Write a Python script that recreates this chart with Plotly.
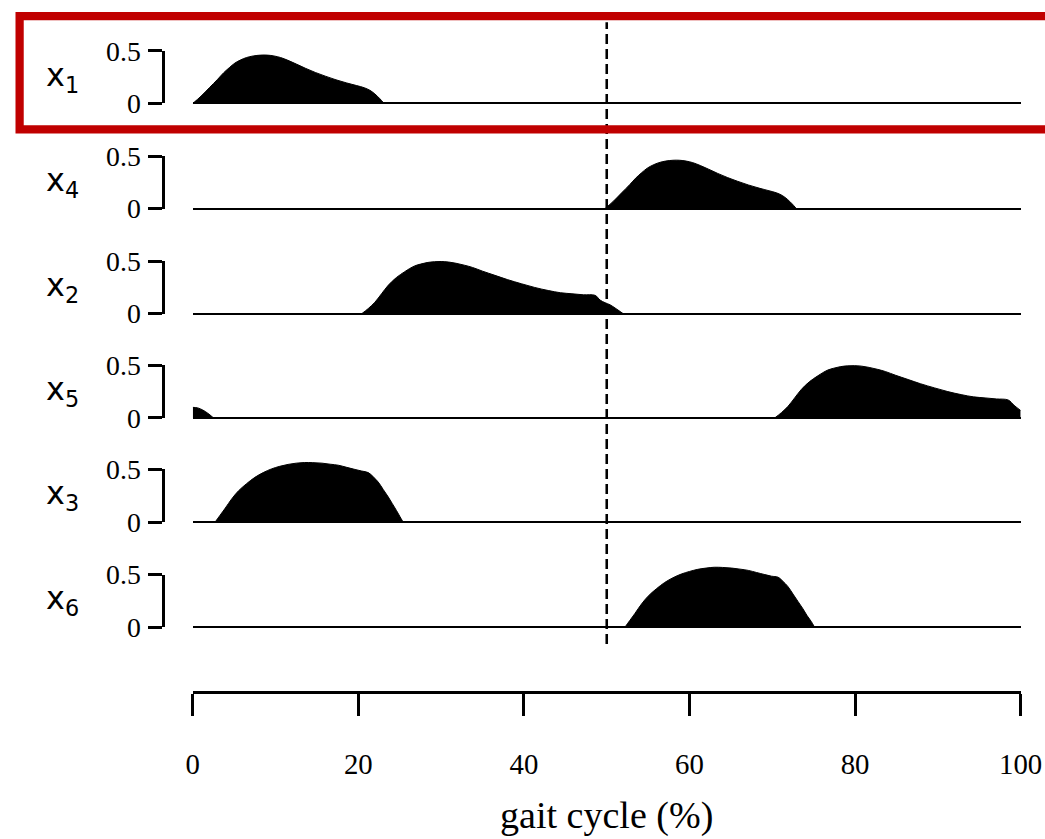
import plotly.graph_objects as go

# ---------------- data ----------------
tick_x = [0, 20, 40, 60, 80, 100]
tick_y = [0, 0.5]
tick_y_text = ["0", "0.5"]
x_title = "gait cycle (%)"

panel_names = ["x<sub>1</sub>", "x<sub>4</sub>", "x<sub>2</sub>", "x<sub>5</sub>", "x<sub>3</sub>", "x<sub>6</sub>"]

x1_pct = [0, 1.0, 2.0, 3.0, 3.7, 4.4, 5.1, 5.8, 6.5, 7.3, 8.2, 9.0, 9.8, 10.6, 11.5, 12.5, 13.6, 14.8, 16.0, 17.3, 18.6, 19.8, 20.7, 21.4, 22.0, 22.6, 23.1]
x1_val = [0, 0.07, 0.15, 0.23, 0.29, 0.34, 0.385, 0.415, 0.437, 0.452, 0.46, 0.46, 0.452, 0.437, 0.41, 0.375, 0.335, 0.295, 0.26, 0.225, 0.195, 0.17, 0.15, 0.125, 0.09, 0.045, 0]

x4_pct = [49.8, 50.8, 51.8, 52.8, 53.5, 54.2, 54.9, 55.6, 56.3, 57.1, 58.0, 58.8, 59.6, 60.4, 61.3, 62.3, 63.4, 64.6, 65.8, 67.1, 68.4, 69.6, 70.5, 71.2, 71.8, 72.4, 72.9]
x4_val = [0, 0.07, 0.15, 0.23, 0.29, 0.34, 0.385, 0.415, 0.437, 0.452, 0.46, 0.46, 0.452, 0.437, 0.41, 0.375, 0.335, 0.295, 0.26, 0.225, 0.195, 0.17, 0.15, 0.125, 0.09, 0.045, 0]

x2_pct = [20.4, 21.2, 22.0, 22.8, 23.6, 24.6, 25.6, 26.2, 26.8, 27.5, 28.3, 29.2, 30.0, 30.9, 31.8, 32.8, 33.8, 35.0, 36.5, 38.0, 39.7, 41.3, 43.0, 44.4, 45.8, 47.2, 48.6, 49.2, 49.8, 50.4, 51.0, 51.5, 52.0]
x2_val = [0, 0.05, 0.11, 0.19, 0.27, 0.345, 0.40, 0.43, 0.455, 0.472, 0.487, 0.495, 0.497, 0.492, 0.48, 0.462, 0.44, 0.405, 0.365, 0.325, 0.285, 0.25, 0.22, 0.20, 0.19, 0.18, 0.175, 0.13, 0.105, 0.085, 0.055, 0.028, 0]

x5_pct = [70.3, 71.1, 71.9, 72.7, 73.5, 74.5, 75.5, 76.1, 76.7, 77.4, 78.2, 79.1, 79.9, 80.8, 81.7, 82.7, 83.7, 84.9, 86.4, 87.9, 89.6, 91.2, 92.9, 94.3, 95.7, 97.1, 98.5, 99.2, 100]
x5_val = [0, 0.05, 0.11, 0.19, 0.27, 0.345, 0.40, 0.43, 0.455, 0.472, 0.487, 0.495, 0.497, 0.492, 0.48, 0.462, 0.44, 0.405, 0.365, 0.325, 0.285, 0.25, 0.22, 0.20, 0.19, 0.18, 0.17, 0.12, 0.07]
x5_wrap_pct = [0, 0.6, 1.2, 1.8, 2.5]
x5_wrap_val = [0.10, 0.095, 0.075, 0.045, 0]

x3_pct = [2.7, 3.3, 3.9, 4.7, 5.5, 6.5, 7.5, 8.5, 9.5, 10.5, 11.5, 12.5, 13.5, 14.5, 15.6, 16.6, 17.6, 18.6, 19.6, 20.4, 21.2, 21.8, 22.4, 23.0, 23.6, 24.1, 24.6, 25.0, 25.4]
x3_val = [0, 0.065, 0.13, 0.22, 0.295, 0.365, 0.425, 0.47, 0.505, 0.53, 0.548, 0.56, 0.566, 0.565, 0.56, 0.55, 0.54, 0.52, 0.50, 0.485, 0.47, 0.43, 0.38, 0.31, 0.24, 0.175, 0.11, 0.055, 0]

x6_pct = [52.2, 52.8, 53.4, 54.2, 55.0, 56.0, 57.0, 58.0, 59.0, 60.0, 61.0, 62.0, 63.0, 64.0, 65.1, 66.1, 67.1, 68.1, 69.1, 69.9, 70.7, 71.3, 71.9, 72.5, 73.1, 73.7, 74.2, 74.7, 75.1]
x6_val = [0, 0.065, 0.13, 0.22, 0.295, 0.365, 0.425, 0.47, 0.505, 0.53, 0.55, 0.562, 0.57, 0.568, 0.562, 0.552, 0.54, 0.52, 0.50, 0.485, 0.475, 0.435, 0.385, 0.315, 0.245, 0.175, 0.11, 0.055, 0]

panel_series = [
    [(x1_pct, x1_val)],
    [(x4_pct, x4_val)],
    [(x2_pct, x2_val)],
    [(x5_pct, x5_val), (x5_wrap_pct, x5_wrap_val)],
    [(x3_pct, x3_val)],
    [(x6_pct, x6_val)],
]

# ---------------- layout geometry (in target-image pixels) ----------------
# observed rendering: image = S * page + (OX, OY)
S, OX, OY = 0.972, 7.4, 10.8
W, H = 1075, 863

baselines_px = [100, 206, 312, 417, 522, 628]
unit_px = 106.0
y_lo, y_hi = -0.05, 0.65
x_left_px, x_right_px = 193, 1020
bracket_px = 163


def yp(px):
    return 1 - ((px - OY) / S) / H


def xp(px):
    return ((px - OX) / S) / W


def sz(v):
    return v / S


SERIF = "Liberation Serif"
SANS = "DejaVu Sans"

fig = go.Figure()
layout = dict(
    width=W, height=H, autosize=False,
    margin=dict(l=0, r=0, t=0, b=0),
    paper_bgcolor="white", plot_bgcolor="rgba(0,0,0,0)",
    showlegend=False,
)

layout["xaxis"] = dict(
    domain=[xp(x_left_px), xp(x_right_px)], range=[0, 100], anchor="y7",
    showline=True, linewidth=sz(3), linecolor="black",
    ticks="outside", ticklen=sz(22), tickwidth=sz(3), tickcolor="black",
    tickvals=tick_x, tickfont=dict(family=SERIF, size=sz(28), color="black"),
    ticklabelstandoff=int(round(sz(22))),
    showgrid=False, zeroline=False,
)

annotations = []
for i, b in enumerate(baselines_px):
    n = i + 1
    dom = [yp(b - y_lo * unit_px), yp(b - y_hi * unit_px)]
    layout["yaxis" if n == 1 else f"yaxis{n}"] = dict(
        domain=dom, range=[y_lo, y_hi], anchor="x",
        showticklabels=False, ticks="", showline=False, showgrid=False,
        zeroline=True, zerolinecolor="black", zerolinewidth=sz(1.5),
    )
    for xs, vs in panel_series[i]:
        fig.add_trace(go.Scatter(
            x=xs, y=vs, xaxis="x", yaxis="y" if n == 1 else f"y{n}",
            mode="lines", line=dict(color="black", width=1, shape="spline", smoothing=1.0),
            fill="tozeroy", fillcolor="black", hoverinfo="skip",
        ))
    # bracket axis (0 .. 0.5)
    bn = 7 + n
    layout[f"yaxis{bn}"] = dict(
        domain=[yp(b), yp(b - 0.5 * unit_px)], range=[0, 0.5],
        anchor="free", position=xp(bracket_px), side="left",
        showline=True, linewidth=sz(3), linecolor="black",
        ticks="outside", ticklen=sz(13), tickwidth=sz(3), tickcolor="black",
        tickvals=tick_y, ticktext=tick_y_text,
        tickfont=dict(family=SERIF, size=sz(27), color="black"),
        ticklabelstandoff=2,
        showgrid=False, zeroline=False,
    )
    fig.add_trace(go.Scatter(x=[None], y=[None], xaxis="x", yaxis=f"y{bn}",
                             mode="lines", hoverinfo="skip"))
    annotations.append(dict(
        text=panel_names[i], xref="paper", yref="paper",
        x=xp(44), y=yp(b - 27), xanchor="left", yanchor="middle",
        showarrow=False, font=dict(family=SANS, size=sz(31), color="black"),
    ))

# dummy axis carrying the bottom x axis line
layout["yaxis7"] = dict(domain=[yp(692), yp(692) + 0.02], range=[0, 1], visible=False, anchor="x")
fig.add_trace(go.Scatter(x=[None], y=[None], xaxis="x", yaxis="y7", mode="lines", hoverinfo="skip"))

annotations.append(dict(
    text=x_title, xref="x", yref="paper", x=50, y=yp(818),
    xanchor="center", yanchor="middle", showarrow=False,
    font=dict(family=SERIF, size=sz(37), color="black"),
))
layout["annotations"] = annotations

layout["shapes"] = [
    dict(type="line", xref="x", yref="paper", x0=50, x1=50, y0=yp(645), y1=yp(18),
         line=dict(color="black", width=sz(2.5), dash="10px,5px")),
    dict(type="rect", xref="paper", yref="paper", x0=xp(20), x1=xp(1060), y0=yp(126), y1=yp(12),
         line=dict(color="#c00000", width=sz(8)), fillcolor="rgba(0,0,0,0)"),
]

fig.update_layout(**layout)
fig.write_html("out.html")
